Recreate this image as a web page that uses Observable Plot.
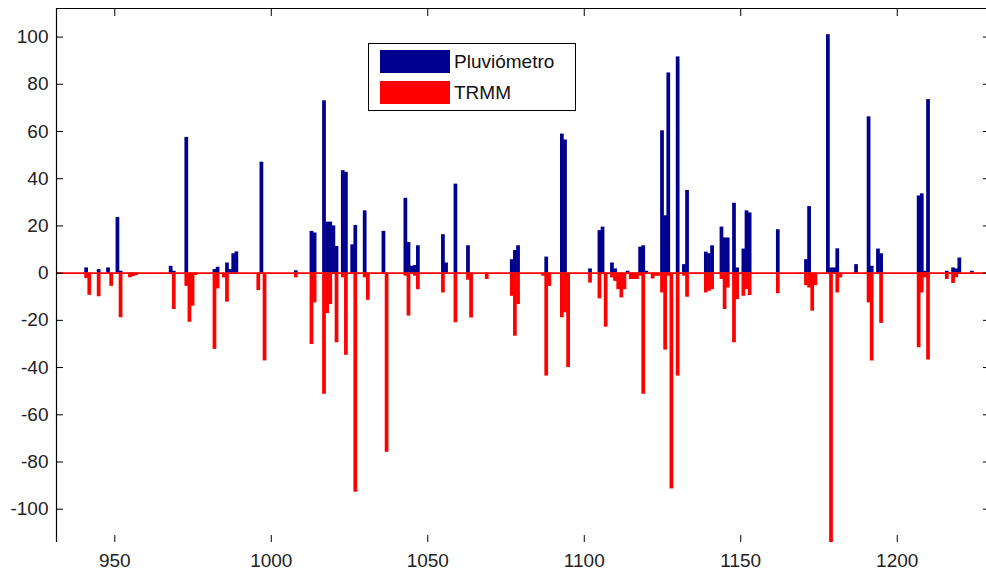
<!DOCTYPE html>
<html>
<head>
<meta charset="utf-8">
<script src="https://cdn.jsdelivr.net/npm/d3@7"></script>
<script src="https://cdn.jsdelivr.net/npm/@observablehq/plot@0.6"></script>
<style>
  html, body { margin: 0; padding: 0; background: #fff; overflow: hidden; }
  #wrap { position: relative; width: 986px; height: 574px; overflow: hidden; }
  #wrap svg { max-width: none !important; display: block; }
  #legend { position: absolute; left: 368px; top: 43px; width: 206px; height: 66px;
    border: 1px solid #000; background: #fff;
    font-family: "Liberation Sans", Arial, sans-serif; font-size: 19px; color: #111; }
  .sw { position: absolute; left: 11px; width: 70px; height: 23px; }
  .lt { position: absolute; left: 85px; line-height: 23px; }
</style>
</head>
<body>
<div id="wrap"></div>
<script>
// Pluviómetro (rain gauge), mm per day
const pluvDays = [941,945,948,951,952,968,969,973,982,983,986,987,988,989,997,1008,1013,1014,1017,1018,1019,1020,1021,1023,1024,1026,1027,1030,1036,1043,1044,1045,1046,1047,1055,1056,1059,1063,1077,1078,1079,1088,1093,1094,1102,1105,1106,1109,1110,1114,1118,1119,1120,1125,1126,1127,1130,1132,1133,1139,1140,1141,1144,1145,1146,1148,1149,1151,1152,1153,1162,1171,1172,1178,1179,1180,1181,1187,1191,1192,1194,1195,1207,1208,1209,1210,1216,1218,1219,1220,1224];
const pluvValues = [2.2,1.5,2.2,23.6,0.8,2.9,0.8,57.5,1.5,2.5,4.3,1.5,8.2,9,47,1,17.7,17,73,21.6,21.6,20,11.3,43.4,42.7,12,20.2,26.4,17.7,31.7,13,2.9,3.2,11.6,16.3,4.3,37.7,11.6,5.7,9.6,11.6,6.8,58.9,56.4,1.8,18,19.5,4.3,1.8,0.8,11,11.6,0.8,60.3,24.3,84.8,91.6,3.6,35,8.9,8.2,11.6,19.5,14.9,14.9,29.6,2.2,10.2,26.4,25.5,18.4,5.7,28.2,101,2.2,2.2,10.3,3.6,66.2,2.9,10.2,8.2,32.7,33.6,0.8,73.5,0.8,2.2,1.8,6.4,0.8];

// TRMM satellite estimate, mm per day (drawn downward)
const trmmDays = [941,942,945,949,952,955,956,957,969,973,974,975,976,982,983,985,986,996,998,1008,1013,1014,1017,1018,1019,1021,1023,1024,1027,1030,1031,1037,1043,1044,1046,1047,1055,1059,1060,1063,1064,1069,1077,1078,1079,1087,1088,1089,1093,1094,1095,1102,1105,1106,1107,1109,1110,1111,1112,1113,1114,1115,1116,1117,1118,1119,1122,1123,1124,1125,1126,1127,1128,1130,1132,1133,1136,1137,1139,1140,1141,1144,1145,1146,1148,1149,1151,1152,1153,1162,1169,1171,1172,1173,1174,1179,1181,1182,1187,1190,1191,1192,1194,1195,1207,1208,1209,1210,1216,1217,1218,1219];
const trmmValues = [2.3,9.4,10,5.6,18.9,2,1.5,1,15.4,5.6,20.8,14,1,32.3,6.7,2,12.3,7.4,37.2,2,30.2,12.6,51.3,17.1,13.3,29.5,2,34.8,92.8,2,11.5,75.9,1.3,18.2,1.3,7,8.4,21,0.6,3,19,2.7,9.8,26.7,13.3,1.3,43.6,5.6,18.9,16.8,40,4.2,10.9,0.6,22.9,2,3.5,7,10.5,7,0.6,2.7,2.7,2.7,1.3,51.3,2.5,1.3,1.3,8.4,32.6,1.3,91.4,43.6,1.3,10.2,0.6,0.6,8.4,7.7,7,2.7,15.4,6.3,29.5,11.2,9.8,7,9.5,8.7,0.6,5.3,6.3,16.1,5.3,116,8.4,2,0.6,0.6,12.6,37.2,0.6,21.3,31.6,8.4,2,36.8,2.7,0.6,4.4,2];

const xTicks = [950, 1000, 1050, 1100, 1150, 1200];
const yTicks = [-100, -80, -60, -40, -20, 0, 20, 40, 60, 80, 100];
const seriesNames = ["Pluviómetro", "TRMM"];
const seriesColors = ["#00008f", "#ff0000"];
const xDomain = [931.37, 1229.8];
const yDomain = [-114.1, 112.1];

const pluv = pluvDays.map((d, i) => ({day: d, value: pluvValues[i]}));
const trmm = trmmDays.map((d, i) => ({day: d, value: trmmValues[i]}));

const W = 991, H = 574, mL = 56, mR = 1, mT = 8, mB = 32;
const plotW = W - mL - mR, plotH = H - mT - mB;
const tick = 7;

const chart = Plot.plot({
  width: W, height: H,
  marginLeft: mL, marginRight: mR, marginTop: mT, marginBottom: mB,
  x: {domain: xDomain},
  y: {domain: yDomain},
  style: {fontFamily: "'Liberation Sans', Arial, sans-serif", fontSize: "19px", color: "#222", background: "#fff", maxWidth: "none"},
  marks: [
    Plot.rect(pluv, {x1: d => d.day - 0.5, x2: d => d.day + 0.5, y1: 0, y2: "value", insetLeft: -0.3, insetRight: -0.3, fill: seriesColors[0], clip: true}),
    Plot.rect(trmm, {x1: d => d.day - 0.5, x2: d => d.day + 0.5, y1: 0, y2: d => -d.value, insetLeft: -0.3, insetRight: -0.3, fill: seriesColors[1], clip: true}),
    Plot.ruleY([0], {stroke: seriesColors[1], strokeWidth: 1.6}),
    // box: left, top, right (bottom edge falls outside the picture)
    Plot.ruleX([xDomain[0]], {stroke: "#000", strokeWidth: 1.2}),
    Plot.ruleX([xDomain[1]], {stroke: "#000", strokeWidth: 1.2}),
    Plot.ruleY([yDomain[1]], {stroke: "#000", strokeWidth: 1.2}),
    Plot.tickX(xTicks, {x: d => d, insetTop: plotH - tick, stroke: "#000"}),
    Plot.tickX(xTicks, {x: d => d, insetBottom: plotH - tick - 1, stroke: "#000"}),
    Plot.tickY(yTicks, {y: d => d, insetRight: plotW - tick, stroke: "#000"}),
    Plot.tickY(yTicks, {y: d => d, insetLeft: plotW - tick, stroke: "#000"}),
    Plot.axisX(xTicks, {anchor: "bottom", tickSize: 0, tickPadding: 11, label: null, tickFormat: d => String(d)}),
    Plot.axisY(yTicks, {anchor: "left", tickSize: 0, tickPadding: 8, label: null, tickFormat: d => String(d)})
  ]
});
chart.style.maxWidth = "none";

const wrap = document.getElementById("wrap");
wrap.appendChild(chart);
const legend = document.createElement("div");
legend.id = "legend";
seriesNames.forEach((name, i) => {
  const sw = document.createElement("div");
  sw.className = "sw";
  sw.style.top = (6 + i * 31) + "px";
  sw.style.background = seriesColors[i];
  const t = document.createElement("div");
  t.className = "lt";
  t.style.top = (6 + i * 31) + "px";
  t.textContent = name;
  legend.appendChild(sw);
  legend.appendChild(t);
});
wrap.appendChild(legend);
</script>
</body>
</html>
